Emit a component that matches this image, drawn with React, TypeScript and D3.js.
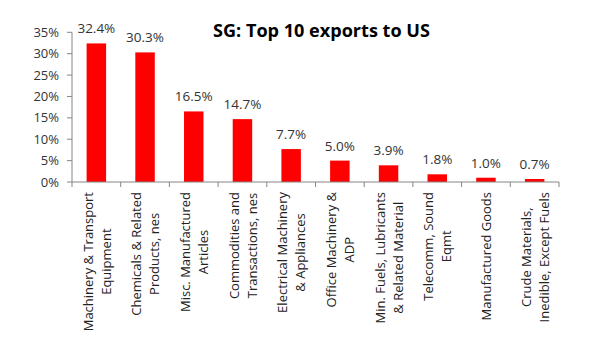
import React, { useEffect, useRef } from "react";
import * as d3 from "d3";

const categories: string[][] = [
  ["Machinery & Transport", "Equipment"],
  ["Chemicals & Related", "Products, nes"],
  ["Misc. Manufactured", "Articles"],
  ["Commodities and", "Transactions, nes"],
  ["Electrical Machinery", "& Appliances"],
  ["Office Machinery &", "ADP"],
  ["Min. Fuels, Lubricants", "& Related Material"],
  ["Telecomm, Sound", "Eqmt"],
  ["Manufactured Goods"],
  ["Crude Materials,", "Inedible, Except Fuels"],
];
const values: number[] = [32.4, 30.3, 16.5, 14.7, 7.7, 5.0, 3.9, 1.8, 1.0, 0.7];
const yTicks: number[] = [0, 5, 10, 15, 20, 25, 30, 35];
const title = "SG: Top 10 exports to US";

const W = 600, H = 360;
const FONT = "'Open Sans', sans-serif";

export default function App() {
  const ref = useRef<SVGSVGElement>(null);
  useEffect(() => {
    const svg = d3.select(ref.current);
    svg.selectAll("*").remove();
    const x0 = 72, x1 = 559, y0 = 182, y1 = 32.3;
    const keys = categories.map((_, i) => String(i));
    const x = d3.scaleBand().domain(keys).range([x0, x1]).paddingInner(0.6).paddingOuter(0.3);
    const xb = d3.scaleBand().domain(keys).range([x0, x1]);
    const y = d3.scaleLinear().domain([0, 35]).range([y0, y1]);

    const tt = svg.append("text").attr("x", 321.5).attr("y", 37).attr("text-anchor", "middle")
      .attr("font-family", FONT).attr("font-weight", "bold").attr("font-size", 17)
      .attr("fill", "#000").text(title);
    const tl = (tt.node() as SVGTextElement).getComputedTextLength();
    if (tl > 0) tt.attr("textLength", 217).attr("lengthAdjust", "spacingAndGlyphs");

    // y axis
    const ya = svg.append("g");
    ya.append("line").attr("x1", x0).attr("x2", x0).attr("y1", y(0)).attr("y2", y(35))
      .attr("stroke", "#868686");
    yTicks.forEach((t) => {
      ya.append("line").attr("x1", x0 - 5).attr("x2", x0).attr("y1", y(t)).attr("y2", y(t))
        .attr("stroke", "#868686");
      ya.append("text").attr("x", x0 - 13).attr("y", y(t)).attr("dy", "0.35em")
        .attr("text-anchor", "end").attr("font-family", FONT).attr("font-size", 13)
        .attr("fill", "#333").text(`${t}%`);
    });

    // bars
    svg.append("g").selectAll("rect").data(values).join("rect")
      .attr("x", (_, i) => x(String(i))!).attr("width", x.bandwidth())
      .attr("y", (d) => y(d)).attr("height", (d) => y(0) - y(d)).attr("fill", "#FF0000");

    // data labels
    svg.append("g").selectAll("text").data(values).join("text")
      .attr("x", (_, i) => x(String(i))! + x.bandwidth() / 2)
      .attr("y", (d) => y(d) - 10).attr("text-anchor", "middle")
      .attr("font-family", FONT).attr("font-size", 13.5).attr("fill", "#333")
      .text((d) => `${d.toFixed(1)}%`);

    // x axis
    const xa = svg.append("g");
    xa.append("line").attr("x1", x0).attr("x2", x1).attr("y1", y0).attr("y2", y0)
      .attr("stroke", "#868686");
    keys.forEach((k) => {
      const bx = xb(k)!;
      xa.append("line").attr("x1", bx).attr("x2", bx).attr("y1", y0).attr("y2", y0 + 5)
        .attr("stroke", "#868686");
    });
    xa.append("line").attr("x1", x1).attr("x2", x1).attr("y1", y0).attr("y2", y0 + 5)
      .attr("stroke", "#868686");

    // category labels
    const lineGap = 18;
    categories.forEach((lines, i) => {
      const cx = xb(String(i))! + xb.bandwidth() / 2;
      const g = xa.append("g");
      const texts = lines.map((ln, j) => {
        const off = (j - (lines.length - 1) / 2) * lineGap;
        return g.append("text").attr("font-family", FONT).attr("font-size", 13)
          .attr("fill", "#222").attr("text-anchor", "middle").attr("data-off", off).text(ln);
      });
      const maxLen = d3.max(texts, (t) => (t.node() as SVGTextElement).getComputedTextLength()) || 0;
      const cy = 192 + maxLen / 2;
      texts.forEach((t) => {
        const off = +t.attr("data-off");
        const px = cx + off + 0.7;
        t.attr("transform", `translate(${px + 4.5},${cy}) rotate(-90)`);
      });
    });
  }, []);
  return (
    <svg ref={ref} width={W} height={H} style={{ position: "absolute", left: 0, top: 0, background: "#fff" }} />
  );
}
